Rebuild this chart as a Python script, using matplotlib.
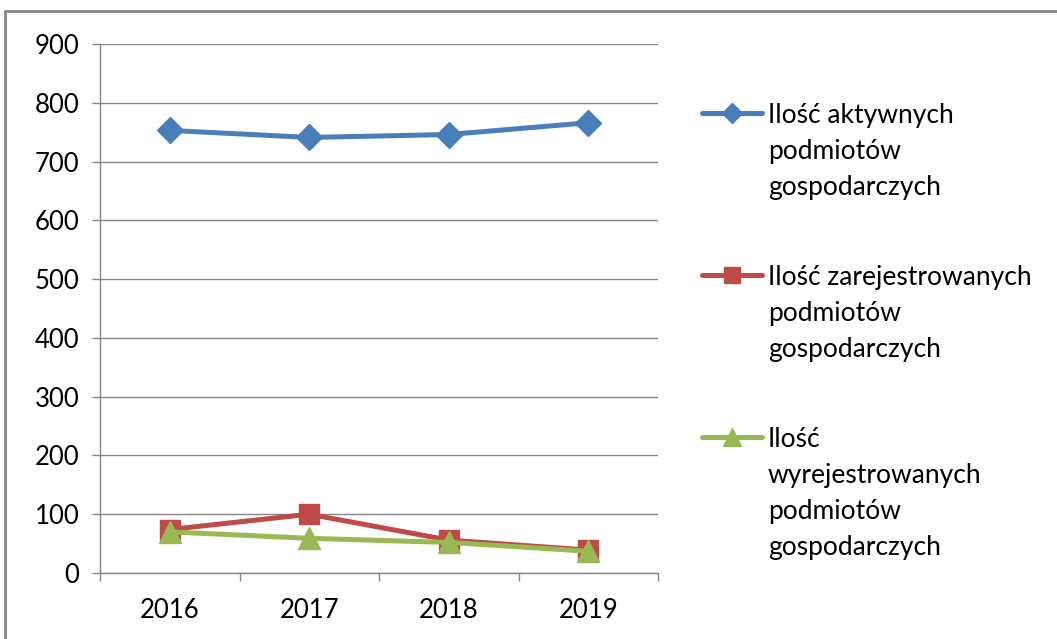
import matplotlib
matplotlib.use("Agg")
import matplotlib.pyplot as plt
from matplotlib.lines import Line2D
from matplotlib.patches import Rectangle

years = ["2016", "2017", "2018", "2019"]
aktywne = [753, 741, 746, 766]
zarejestrowane = [74, 100, 56, 39]
wyrejestrowane = [70, 59, 52, 37]
labels = ["Ilość aktywnych\npodmiotów\ngospodarczych",
          "Ilość zarejestrowanych\npodmiotów\ngospodarczych",
          "Ilość\nwyrejestrowanych\npodmiotów\ngospodarczych"]
yticks = [0, 100, 200, 300, 400, 500, 600, 700, 800, 900]

plt.rcParams['font.family'] = ['Lato', 'DejaVu Sans']
W, H = 1057, 639
fig = plt.figure(figsize=(W / 100, H / 100), dpi=100)
ax = fig.add_axes([100 / W, 1 - 573 / H, 558 / W, 529 / H])

colors = ["#4A7EBB", "#BE4B48", "#98B954"]
markers = ["D", "s", "^"]
msizes = [13, 15, 16]
series = [aktywne, zarejestrowane, wyrejestrowane]
x = list(range(len(years)))
for s, c, m, ms in zip(series, colors, markers, msizes):
    ax.plot(x, s, color=c, lw=3.6, marker=m, markersize=ms, solid_joinstyle='round', zorder=3)

gray = "#868686"
ax.set_ylim(0, 900)
ax.set_xlim(-0.5, len(years) - 0.5)
ax.set_yticks(yticks)
ax.yaxis.grid(True, color=gray, lw=1.0)
ax.set_axisbelow(True)
ax.tick_params(axis='y', length=6, width=1, color=gray, pad=9, labelsize=18.5, labelcolor="#000000")
ax.set_xticks([i - 0.5 for i in range(len(years) + 1)])
ax.set_xticklabels([])
ax.set_xticks(x, minor=True)
ax.set_xticklabels(years, minor=True)
ax.tick_params(axis='x', which='major', length=6, width=1, color=gray)
ax.tick_params(axis='x', which='minor', length=0, pad=18, labelsize=18.5)
for sp in ["top", "right"]:
    ax.spines[sp].set_visible(False)
for sp in ["left", "bottom"]:
    ax.spines[sp].set_color(gray)
    ax.spines[sp].set_linewidth(1.0)

# legend drawn manually
ys = [113, 275, 437]
for yy, c, m, ms, lab in zip(ys, colors, markers, msizes, labels):
    fy = 1 - yy / H
    fig.add_artist(Line2D([702 / W, 762 / W], [fy, fy], color=c, lw=3.6,
                          solid_capstyle='round', transform=fig.transFigure))
    fig.add_artist(Line2D([732 / W], [fy], color=c, marker=m, markersize=ms * 0.8,
                          lw=0, transform=fig.transFigure))
    fig.text(768 / W, 1 - (yy - 10) / H, lab, ha='left', va='top', fontsize=19,
             linespacing=1.55, color="#000000")

# outer chart border
fig.add_artist(Rectangle((5 / W, -0.1), 1.2, 1 - 11 / H + 0.1, transform=fig.transFigure,
                         fill=False, edgecolor=gray, lw=2))

fig.savefig("out.png", dpi=100)
